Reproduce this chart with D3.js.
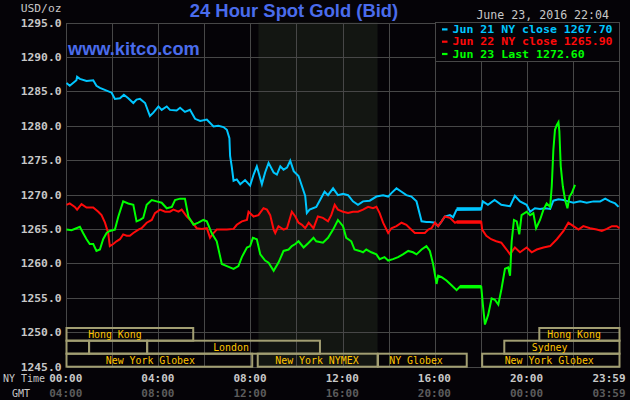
<!DOCTYPE html>
<html><head><meta charset="utf-8">
<script src="https://cdn.jsdelivr.net/npm/d3@7/dist/d3.min.js"></script>
<style>
html,body{margin:0;padding:0;background:#050307;}
svg{display:block;}
</style></head>
<body>
<svg id="chart" width="630" height="400"></svg>
<script>
// ---------------- DATA ----------------
const titleText = "24 Hour Spot Gold (Bid)";
const siteText = "www.kitco.com";
const unitText = "USD/oz";
const dateText = "June 23, 2016 22:04";
const legendLabels = ["Jun 21 NY close 1267.70", "Jun 22 NY close 1265.90", "Jun 23 Last 1272.60"];
const yTicks = [1245, 1250, 1255, 1260, 1265, 1270, 1275, 1280, 1285, 1290, 1295];
const gridHours = [0, 2, 4, 6, 8, 10, 12, 14, 16, 18, 20, 22, 24];
const xTickHours = [0, 4, 8, 12, 16, 20, 24];
const nyTimeLabels = ["00:00", "04:00", "08:00", "12:00", "16:00", "20:00", "23:59"];
const gmtLabels = ["04:00", "08:00", "12:00", "16:00", "20:00", "00:00", "03:59"];
const nymexBand = [8.33, 13.5];
const closedGap = [16.93, 18.0];
// sessions: [label, row, startHour, endHour, labelHour]
const sessions = [
  ["Hong Kong", 0, 0, 5.5, 2.1],
  ["Hong Kong", 0, 20.52, 24, 22.03],
  ["", 1, 0, 0.98, 0],
  ["", 1, 0.98, 3.5, 0],
  ["London", 1, 3.5, 11.0, 7.14],
  ["Sydney", 1, 19.0, 24, 20.97],
  ["New York Globex", 2, 0, 8.06, 3.64],
  ["New York NYMEX", 2, 8.3, 13.5, 10.87],
  ["NY Globex", 2, 13.52, 17.37, 15.17],
  ["New York Globex", 2, 18.04, 24, 20.95]
];
// series: [hour (NY time), price]
const jun21 = [[0,1286.2],[0.14,1285.8],[0.43,1286.6],[0.46,1287.1],[0.58,1286.8],[0.87,1286.5],[1.16,1286.6],[1.3,1285.8],[1.45,1285.5],[1.74,1285.1],[1.96,1284.8],[2.1,1283.9],[2.32,1284.0],[2.49,1284.5],[2.68,1284.0],[2.9,1283.3],[3.04,1283.8],[3.19,1283.9],[3.41,1283.3],[3.62,1281.4],[3.77,1281.9],[3.99,1282.8],[4.13,1282.3],[4.35,1282.8],[4.49,1282.3],[4.78,1282.2],[4.93,1282.6],[5.14,1282.0],[5.36,1282.3],[5.58,1281.0],[5.8,1280.7],[6.09,1280.9],[6.38,1279.9],[6.59,1280.0],[6.81,1279.8],[6.96,1279.4],[7.07,1278.2],[7.1,1275.6],[7.17,1274.1],[7.25,1272.0],[7.39,1272.2],[7.54,1271.5],[7.75,1272.1],[7.97,1271.3],[8.12,1272.9],[8.26,1274.1],[8.48,1271.5],[8.62,1273.2],[8.77,1274.6],[8.99,1273.2],[9.13,1272.9],[9.28,1274.1],[9.42,1273.6],[9.57,1273.9],[9.71,1274.9],[9.86,1273.4],[10.07,1272.7],[10.22,1271.2],[10.36,1269.8],[10.43,1267.3],[10.55,1267.8],[10.84,1268.2],[11.2,1270.4],[11.35,1269.9],[11.57,1270.9],[11.78,1269.9],[12,1270.1],[12.22,1269.9],[12.43,1269.0],[12.65,1268.5],[12.87,1269.0],[13.16,1269.1],[13.45,1269.7],[13.74,1269.9],[13.96,1269.7],[14.1,1270.2],[14.32,1270.9],[14.54,1270.4],[14.75,1269.9],[14.97,1269.7],[15.19,1269.0],[15.41,1266.1],[15.62,1266.0],[15.77,1266.0],[15.99,1265.9],[16.13,1265.4],[16.28,1266.1],[16.42,1266.8],[16.64,1267.0],[16.78,1266.7],[16.93,1267.8],[18.0,1267.9],[18.07,1269.0],[18.29,1268.5],[18.58,1269.2],[18.87,1268.5],[19.25,1268.3],[19.46,1269.8],[19.68,1269.0],[19.97,1268.5],[20.12,1267.5],[20.33,1268.0],[20.55,1267.9],[20.77,1268.0],[20.99,1267.9],[21.13,1269.1],[21.35,1269.3],[21.57,1269.2],[21.78,1269.0],[22.0,1268.8],[22.29,1269.0],[22.58,1268.8],[22.87,1269.0],[23.16,1269.0],[23.38,1269.4],[23.59,1269.0],[23.81,1268.7],[23.96,1268.2]];
const jun22 = [[0,1268.5],[0.14,1268.7],[0.36,1268.2],[0.46,1267.8],[0.65,1268.6],[0.87,1268.1],[1.16,1268.1],[1.38,1267.5],[1.52,1267.0],[1.67,1265.9],[1.81,1264.4],[1.88,1262.5],[2.03,1262.8],[2.17,1263.2],[2.32,1263.5],[2.46,1264.2],[2.61,1264.0],[2.75,1264.0],[2.9,1264.4],[3.12,1264.9],[3.26,1265.1],[3.48,1265.9],[3.7,1266.3],[3.84,1267.3],[4.06,1267.8],[4.28,1267.5],[4.49,1267.5],[4.64,1267.8],[4.86,1267.5],[5.0,1267.8],[5.22,1266.8],[5.43,1266.1],[5.65,1265.1],[5.87,1265.0],[6.09,1265.1],[6.23,1263.7],[6.38,1264.4],[6.52,1264.9],[6.74,1264.9],[6.96,1264.9],[7.25,1265.0],[7.39,1265.6],[7.61,1266.1],[7.83,1266.3],[7.9,1267.5],[8.12,1266.8],[8.33,1267.0],[8.55,1268.0],[8.7,1267.8],[8.84,1267.0],[8.99,1264.9],[9.06,1264.4],[9.2,1265.4],[9.42,1264.9],[9.57,1265.1],[9.78,1267.5],[9.93,1266.8],[10.07,1265.9],[10.22,1265.6],[10.36,1265.1],[10.51,1265.9],[10.72,1265.1],[10.91,1266.8],[11.13,1266.6],[11.35,1266.1],[11.49,1267.0],[11.64,1268.5],[11.78,1267.8],[12,1267.5],[12.22,1267.3],[12.43,1267.5],[12.65,1267.5],[12.87,1267.8],[13.09,1268.2],[13.3,1268.0],[13.45,1268.2],[13.59,1267.3],[13.74,1265.9],[13.96,1264.4],[14.1,1265.1],[14.32,1265.4],[14.54,1265.9],[14.75,1265.6],[14.9,1265.1],[15.12,1264.4],[15.33,1264.4],[15.55,1264.4],[15.7,1264.9],[15.84,1265.1],[15.99,1265.9],[16.13,1265.4],[16.28,1266.1],[16.42,1266.8],[16.64,1266.6],[16.86,1265.9],[16.93,1266.0],[18.0,1266.0],[18.04,1264.9],[18.22,1264.0],[18.43,1263.5],[18.65,1263.2],[18.87,1263.0],[19.1,1262.0],[19.25,1261.3],[19.46,1262.3],[19.68,1261.6],[19.97,1262.3],[20.19,1261.6],[20.41,1262.0],[20.7,1262.3],[20.99,1262.5],[21.28,1263.5],[21.57,1264.7],[21.78,1265.9],[22.0,1265.4],[22.22,1264.9],[22.43,1265.4],[22.72,1265.1],[23.01,1264.9],[23.23,1264.7],[23.45,1265.0],[23.67,1265.4],[23.88,1265.4],[24,1265.1]];
const jun23 = [[0,1264.9],[0.22,1264.8],[0.43,1265.1],[0.58,1265.3],[0.72,1264.4],[0.87,1263.5],[1.01,1262.8],[1.16,1262.8],[1.3,1261.8],[1.45,1262.0],[1.59,1263.5],[1.74,1264.4],[1.88,1264.7],[2.1,1264.9],[2.25,1266.8],[2.46,1269.0],[2.68,1268.7],[2.9,1268.5],[3.04,1266.1],[3.19,1266.3],[3.33,1266.6],[3.48,1268.5],[3.7,1269.2],[3.91,1269.0],[4.13,1268.8],[4.35,1268.0],[4.57,1268.2],[4.71,1269.2],[4.93,1269.4],[5.14,1269.4],[5.29,1266.8],[5.51,1265.6],[5.72,1265.9],[5.94,1266.3],[6.09,1266.1],[6.3,1264.4],[6.52,1263.2],[6.74,1259.9],[6.96,1259.6],[7.25,1259.2],[7.46,1259.6],[7.61,1260.9],[7.83,1262.3],[7.97,1262.5],[8.09,1263.7],[8.26,1263.5],[8.41,1261.3],[8.62,1260.4],[8.77,1260.1],[8.99,1258.9],[9.2,1260.1],[9.42,1261.8],[9.64,1262.0],[9.78,1262.5],[9.93,1262.8],[10.07,1263.2],[10.29,1262.3],[10.51,1263.0],[10.72,1263.7],[10.84,1263.2],[11.13,1263.0],[11.35,1263.7],[11.57,1264.9],[11.78,1266.3],[12,1265.4],[12.14,1263.7],[12.36,1263.2],[12.5,1262.0],[12.72,1261.8],[12.87,1261.6],[13.01,1262.0],[13.23,1261.6],[13.45,1261.3],[13.59,1260.6],[13.8,1260.9],[13.96,1260.4],[14.17,1260.6],[14.39,1260.9],[14.6,1261.3],[14.83,1261.8],[15.04,1261.6],[15.19,1261.3],[15.41,1262.0],[15.62,1262.5],[15.77,1261.8],[15.91,1259.9],[16.06,1257.0],[16.13,1258.2],[16.28,1258.0],[16.49,1257.5],[16.71,1256.8],[16.93,1256.1],[17.07,1256.6],[18.0,1256.6],[18.07,1254.0],[18.16,1251.1],[18.3,1252.5],[18.45,1254.9],[18.59,1254.7],[18.74,1254.0],[18.88,1256.3],[19.03,1259.2],[19.17,1259.4],[19.25,1258.2],[19.32,1263.2],[19.42,1266.3],[19.54,1266.1],[19.65,1264.2],[19.75,1267.0],[19.97,1267.5],[20.12,1267.0],[20.26,1267.3],[20.38,1265.1],[20.55,1266.3],[20.7,1267.8],[20.84,1268.7],[20.99,1268.2],[21.06,1271.2],[21.13,1276.5],[21.2,1279.4],[21.28,1280.1],[21.35,1280.5],[21.39,1279.2],[21.45,1274.1],[21.54,1271.2],[21.64,1269.2],[21.74,1268.0],[21.83,1269.7],[21.93,1270.2],[22.07,1271.4]];
const seriesColors = ["#00c6ff", "#ff0a0a", "#00ff00"];

// ---------------- CHART ----------------
const svg = d3.select("#chart");
const L = 66.5, R = 619.5, T = 22.5, B = 366.5;
const x = d3.scaleLinear().domain([0, 24]).range([L, R]);
const y = d3.scaleLinear().domain([1245, 1295]).range([B, T]);
const mono = "'DejaVu Sans Mono', 'Liberation Mono', monospace";
const sans = "'Liberation Sans', Arial, sans-serif";
const gridColor = "#474747";

svg.append("rect").attr("width", 630).attr("height", 400).attr("fill", "#050307");

// NYMEX shaded band
svg.append("rect")
  .attr("x", x(nymexBand[0])).attr("y", T)
  .attr("width", x(nymexBand[1]) - x(nymexBand[0])).attr("height", B - T)
  .attr("fill", "#131612");

// grid
const grid = svg.append("g").attr("shape-rendering", "crispEdges").attr("stroke", gridColor).attr("stroke-width", 1);
grid.selectAll("line.h").data(yTicks).join("line")
  .attr("x1", L).attr("x2", R)
  .attr("y1", d => Math.round(y(d)) + 0.5).attr("y2", d => Math.round(y(d)) + 0.5);
grid.selectAll("line.v").data(gridHours).join("line")
  .attr("y1", T).attr("y2", B)
  .attr("x1", d => Math.floor(x(d)) + 0.5).attr("x2", d => Math.floor(x(d)) + 0.5);

// sessions
const rowTops = [328, 340.7, 353.7, 366.7];
const sess = svg.append("g");
sess.selectAll("rect").data(sessions).join("rect")
  .attr("x", d => x(d[2])).attr("y", d => rowTops[d[1]])
  .attr("width", d => x(d[3]) - x(d[2]))
  .attr("height", d => rowTops[d[1] + 1] - rowTops[d[1]])
  .attr("fill", "none").attr("stroke", "#a29e72").attr("stroke-width", 2);
sess.selectAll("text").data(sessions.filter(d => d[0])).join("text")
  .attr("x", d => x(d[4])).attr("y", d => (rowTops[d[1]] + rowTops[d[1] + 1]) / 2 + 3.6)
  .attr("text-anchor", "middle")
  .attr("font-family", mono).attr("font-size", "9.9px").attr("fill", "#ffc400")
  .text(d => d[0]);

// lines
const line = d3.line().x(d => x(d[0])).y(d => y(d[1]));
[jun21, jun22, jun23].forEach((s, i) => {
  svg.append("path").datum(s).attr("d", line)
    .attr("fill", "none").attr("stroke", seriesColors[i]).attr("stroke-width", 2)
    .attr("stroke-linejoin", "miter");
  const flat = s.filter(d => d[0] >= closedGap[0] && d[0] <= closedGap[1] + 0.001);
  if (flat.length > 1) {
    svg.append("path").datum([[flat[flat.length - 2][0], flat[flat.length - 1][1]], flat[flat.length - 1]]).attr("d", line)
      .attr("fill", "none").attr("stroke", seriesColors[i]).attr("stroke-width", 3.5);
  }
});

// y axis labels
const yAxis = d3.axisLeft(y).tickValues(yTicks).tickFormat(d3.format(".1f")).tickSize(0).tickPadding(5);
const gy = svg.append("g").attr("transform", `translate(${L},0)`).call(yAxis);
gy.select(".domain").remove();
gy.selectAll("text").attr("font-family", mono).attr("font-size", "11.3px").attr("font-weight", "bold").attr("fill", "#c8c8c8");

// x axis labels (NY time and GMT)
function xRow(labels, yy, color) {
  const ax = d3.axisBottom(x).tickValues(xTickHours).tickFormat((d, i) => labels[i]).tickSize(0).tickPadding(0);
  const g = svg.append("g").attr("transform", `translate(-1.3,${yy})`).call(ax);
  g.select(".domain").remove();
  g.selectAll("text").attr("font-family", mono).attr("font-size", "11px").attr("font-weight", "bold")
    .attr("fill", color).attr("dy", "0.35em").attr("y", 0);
  g.selectAll(".tick").filter(d => d === 24).select("text").attr("text-anchor", "end").attr("x", 625 - x(24) + 1.3);
}
xRow(nyTimeLabels, 378.5, "#c8c8c8");
xRow(gmtLabels, 393.5, "#5c5c5c");
svg.append("text").attr("x", 3).attr("y", 382).attr("font-family", mono).attr("font-size", "10px").attr("fill", "#c8c8c8").text("NY Time");
svg.append("text").attr("x", 12).attr("y", 397).attr("font-family", mono).attr("font-size", "10px").attr("fill", "#c8c8c8").text("GMT");

// unit label
svg.append("text").attr("x", 61.5).attr("y", 12).attr("text-anchor", "end")
  .attr("font-family", mono).attr("font-size", "11.3px").attr("fill", "#c8c8c8").text(unitText);

// title
svg.append("text").attr("x", 294).attr("y", 16.7).attr("text-anchor", "middle")
  .attr("font-family", sans).attr("font-size", "18.4px").attr("font-weight", "bold").attr("fill", "#4a6cec").text(titleText);
svg.append("text").attr("x", 68).attr("y", 55).attr("font-family", sans).attr("font-size", "18.2px")
  .attr("font-weight", "bold").attr("fill", "#4a6cec").text(siteText);

// date
svg.append("text").attr("x", 609).attr("y", 19).attr("text-anchor", "end")
  .attr("font-family", mono).attr("font-size", "11.6px").attr("fill", "#c8c8c8").text(dateText);

// legend
const lx = Math.floor(x(16)) + 0.5;
svg.append("rect").attr("x", lx).attr("y", T).attr("width", Math.floor(x(24)) + 0.5 - lx).attr("height", 38.5)
  .attr("fill", "#050307").attr("stroke", gridColor).attr("shape-rendering", "crispEdges");
const legRowsY = [29.3, 41.6, 53.9];
legendLabels.forEach((t, i) => {
  svg.append("rect").attr("x", lx + 6.5).attr("y", legRowsY[i] - 1).attr("width", 5.5).attr("height", 2.2).attr("fill", seriesColors[i]);
  svg.append("text").attr("x", lx + 17).attr("y", legRowsY[i] + 3.8)
    .attr("font-family", mono).attr("font-size", "10.4px").attr("font-weight", "bold")
    .attr("textLength", t.length * 6.96).attr("lengthAdjust", "spacingAndGlyphs")
    .attr("fill", seriesColors[i]).text(t);
});
</script>
</body></html>
